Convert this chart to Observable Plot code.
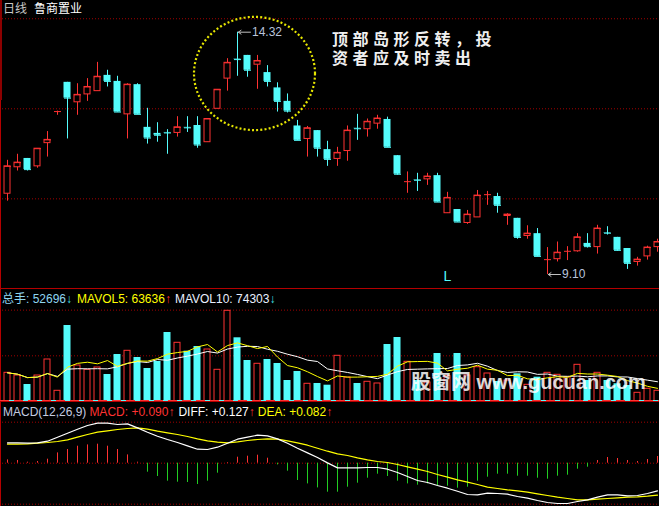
<!DOCTYPE html>
<html>
<head>
<meta charset="utf-8">
<script src="https://cdn.jsdelivr.net/npm/d3@7"></script>
<script src="https://cdn.jsdelivr.net/npm/@observablehq/plot@0.6"></script>
<style>
html,body{margin:0;padding:0;background:#000;}
#wrap{position:relative;width:659px;height:506px;overflow:hidden;background:#000;font-family:"Liberation Sans","Noto Sans CJK SC",sans-serif;}
#wrap svg{position:absolute;left:0;}
</style>
</head>
<body>
<div id="wrap"></div>
<script>
// ---------- data ----------
const open  = [10.84,11.41,11.60,11.43,11.93,12.61,13.24,12.81,12.98,13.05,
               13.39,13.26,12.55,13.19,12.27,12.14,12.16,12.15,12.27,12.31,
               11.95,12.67,13.32,13.74,13.82,13.62,13.45,13.12,12.83,12.30,
               12.02,12.20,11.79,11.59,11.76,12.25,12.23,12.35,12.44,11.66,
               11.10,11.14,11.15,11.23,10.42,10.50,10.21,10.33,10.82,10.78,
               10.36,10.31,9.93,9.98,9.42,9.43,9.60,9.60,9.77,9.69,
               10.00,9.90,9.66,9.37,9.49,9.69];
const high  = [11.56,11.69,11.60,11.81,12.18,12.62,13.24,13.21,13.32,13.67,
               13.50,13.37,13.21,13.21,12.68,12.37,12.22,12.50,12.50,12.50,
               12.45,13.08,13.75,14.32,13.82,13.82,13.60,13.23,12.99,12.42,
               12.29,12.20,11.97,11.84,12.30,12.55,12.45,12.53,12.49,11.66,
               11.31,11.28,11.28,11.28,10.87,10.50,10.48,10.91,10.89,10.85,
               10.41,10.31,10.15,10.09,9.68,9.80,9.70,9.98,9.98,10.16,
               10.13,9.90,9.66,9.47,9.71,9.86];
const low   = [10.68,11.33,11.33,11.39,11.63,12.53,12.02,12.53,12.83,13.05,
               13.14,12.60,12.02,12.55,11.91,11.95,11.69,12.06,12.16,11.82,
               11.95,12.67,13.05,13.37,13.35,13.09,13.14,12.60,12.58,11.99,
               11.63,11.63,11.43,11.43,11.54,11.99,12.06,12.23,11.84,11.24,
               10.85,10.89,11.02,10.66,10.42,10.23,10.18,10.33,10.59,10.42,
               10.16,9.86,9.86,9.49,9.10,9.37,9.40,9.58,9.67,9.54,
               9.95,9.60,9.21,9.28,9.41,9.58];
const close = [11.43,11.51,11.36,11.81,12.00,12.61,12.90,12.97,13.14,13.36,
               13.26,12.60,13.19,12.55,12.04,12.10,12.15,12.27,12.26,11.89,
               12.45,13.08,13.66,13.73,13.50,13.70,13.26,12.83,12.62,11.99,
               12.25,11.82,11.58,11.72,12.20,12.24,12.39,12.46,11.84,11.26,
               11.10,11.13,11.21,10.66,10.75,10.23,10.39,10.80,10.82,10.59,
               10.39,9.90,9.98,9.49,9.42,9.57,9.60,9.90,9.70,10.09,
               9.99,9.62,9.34,9.42,9.68,9.80];
const volume = [141300,128000,83700,128000,206900,52700,374300,177300,156100,167500,
                133000,231500,249700,216700,162500,197000,339800,289100,247700,270900,
                256100,156100,446700,313700,201900,185700,206900,187200,103400,147800,
                87200,88700,80300,225100,118200,88700,97000,88700,280700,315200,
                195500,103400,93600,236400,124600,236400,128000,168900,137900,98500,
                103400,136400,82200,119700,141300,131500,119700,180700,103400,141300,
                103400,87200,78800,42800,62500,52696];
const diff = [0.203,0.203,0.200,0.203,0.220,0.260,0.300,0.340,0.377,0.400,
              0.400,0.387,0.393,0.353,0.310,0.270,0.237,0.207,0.173,0.140,
              0.137,0.160,0.200,0.240,0.260,0.280,0.273,0.243,0.200,0.150,
              0.103,0.057,0.003,-0.047,-0.047,-0.047,-0.043,-0.043,-0.060,-0.093,
              -0.133,-0.173,-0.193,-0.223,-0.250,-0.280,-0.313,-0.317,-0.300,-0.303,
              -0.310,-0.333,-0.350,-0.373,-0.393,-0.403,-0.403,-0.383,-0.367,-0.340,
              -0.317,-0.317,-0.327,-0.323,-0.303,-0.277];
const dea  = [0.190,0.190,0.193,0.200,0.207,0.217,0.233,0.260,0.287,0.310,
              0.323,0.337,0.347,0.353,0.340,0.320,0.303,0.287,0.267,0.243,
              0.223,0.210,0.203,0.213,0.227,0.237,0.243,0.240,0.223,0.203,
              0.180,0.150,0.120,0.093,0.077,0.053,0.033,0.017,0.007,-0.013,
              -0.037,-0.060,-0.083,-0.113,-0.140,-0.167,-0.190,-0.213,-0.240,-0.253,
              -0.267,-0.277,-0.290,-0.307,-0.323,-0.340,-0.353,-0.367,-0.367,-0.360,
              -0.353,-0.347,-0.340,-0.337,-0.330,-0.320];
const macd = [0.033,0.027,0.010,0.017,0.040,0.103,0.137,0.170,0.183,0.190,
              0.170,0.137,0.083,0.010,-0.090,-0.133,-0.180,-0.190,-0.193,-0.213,
              -0.180,-0.100,0.007,0.060,0.070,0.080,0.050,-0.017,-0.080,-0.173,
              -0.207,-0.247,-0.290,-0.290,-0.240,-0.200,-0.150,-0.110,-0.133,-0.180,
              -0.207,-0.220,-0.207,-0.230,-0.230,-0.250,-0.240,-0.180,-0.140,-0.110,
              -0.110,-0.130,-0.130,-0.150,-0.160,-0.130,-0.120,-0.060,-0.040,0.027,
              0.057,0.047,0.027,0.017,0.037,0.067];
const priceGrid = [14.61, 12.67, 10.73];
const volGrid = [225000, 450000];
const macdGrid = [0.41, 0, -0.41];
const signals = [{i: 44, label: "L"}];
const island = {i: 24.75, p: 13.42, di: 6.05, dp: 1.22};
const stockName = "鲁商置业";
const period = "日线";
const volHeader = [["总手: 52696", "#8fd6f0"], ["↓", "#40e0e0"], ["MAVOL5: 63636", "#ffff00"], ["↑", "#ff3232"], ["MAVOL10: 74303", "#e8f0ff"], ["↓", "#40e0e0"]];
const macdHeader = [["MACD(12,26,9)", "#c4cce0"], ["MACD: +0.090↑", "#ff3232"], ["DIFF: +0.127", "#ffffff"], ["↑", "#ff3232"], ["DEA: +0.082", "#ffff00"], ["↑", "#ff3232"]];
const note = ["顶部岛形反转，投", "资者应及时卖出"];
const watermark = "股窗网 www.gucuan.com";

// ---------- styles ----------
const RED = "#ff3232", CYAN = "#54fcfc", GREEN = "#22cc22", YELLOW = "#ffff00", GRID = "#a00000";

const bars = open.map((o, i) => ({i, o, h: high[i], l: low[i], c: close[i], v: volume[i], up: close[i] >= o}));
const ups = bars.filter(d => d.up), downs = bars.filter(d => !d.up);
const macdRows = macd.map((m, i) => ({i, m, diff: diff[i], dea: dea[i]}));
const hiI = d3.maxIndex(high), loI = d3.minIndex(low);
const extremes = [{i: hiI, p: high[hiI]}, {i: loI, p: low[loI]}];

const X = {domain: [-0.5, open.length - 0.8], axis: null};
const common = {width: 659, marginLeft: 2, marginRight: 0, style: {background: "transparent", overflow: "visible"}};
const wrap = document.getElementById("wrap");

// ---------- price pane ----------
const price = Plot.plot({
  ...common, height: 288, marginTop: 31.7, marginBottom: 14,
  x: X, y: {domain: [9.10, 14.32], axis: null},
  marks: [
    Plot.ruleY(priceGrid, {stroke: GRID, strokeDasharray: "1,2"}),
    Plot.ruleX(ups, {x: "i", y1: "l", y2: "h", stroke: RED}),
    Plot.ruleX(downs, {x: "i", y1: "l", y2: "h", stroke: CYAN}),
    Plot.rect(ups, {x1: d => d.i - 0.3, x2: d => d.i + 0.3, y1: "o", y2: "c", fill: "#000", stroke: RED}),
    Plot.rect(downs, {x1: d => d.i - 0.35, x2: d => d.i + 0.35, y1: "o", y2: "c", fill: CYAN}),
    Plot.link(ups, {x1: d => d.i - 0.35, x2: d => d.i + 0.35, y1: "c", y2: "c", stroke: RED, strokeWidth: 1}),
    Plot.link(downs, {x1: d => d.i - 0.35, x2: d => d.i + 0.35, y1: "c", y2: "c", stroke: CYAN, strokeWidth: 1}),
    Plot.arrow(extremes, {x1: d => d.i + 1.3, x2: d => d.i + 0.08, y1: "p", y2: "p", stroke: "#c0c0c0", strokeWidth: 1, headLength: 5, headAngle: 70}),
    Plot.text(extremes, {x: d => d.i + 1.45, y: "p", text: d => d.p.toFixed(2), textAnchor: "start", fill: "#b8c4dc", fontSize: 12, fontFamily: "Liberation Sans"}),
    Plot.text(signals, {x: "i", text: "label", frameAnchor: "bottom", dy: 6, fill: CYAN, fontSize: 14, fontFamily: "Liberation Sans"})
  ]
});
price.style.top = "0px";
{
  const sx = price.scale("x"), sy = price.scale("y");
  const cx = sx.apply(island.i), cy = sy.apply(island.p);
  const rx = sx.apply(island.i + island.di) - cx, ry = sy.apply(island.p - island.dp) - cy;
  d3.select(price).append("ellipse")
    .attr("cx", cx).attr("cy", cy).attr("rx", rx).attr("ry", ry)
    .attr("fill", "none").attr("stroke", "#e6e600").attr("stroke-width", 2.2).attr("stroke-dasharray", "2,2.2");
}
wrap.appendChild(price);

// ---------- volume pane ----------
const volPlot = Plot.plot({
  ...common, height: 114, marginTop: 0, marginBottom: 1,
  x: X, y: {domain: [0, 556525], axis: null},
  marks: [
    Plot.ruleY(volGrid, {stroke: GRID, strokeDasharray: "1,2"}),
    Plot.rect(ups, {x1: d => d.i - 0.3, x2: d => d.i + 0.3, y1: 0, y2: "v", fill: "#000", stroke: RED}),
    Plot.rect(downs, {x1: d => d.i - 0.35, x2: d => d.i + 0.35, y1: 0, y2: "v", fill: CYAN}),
    Plot.lineY(bars, Plot.windowY({k: 10, anchor: "end", reduce: "mean"}, {x: "i", y: "v", stroke: "#ffffff", strokeWidth: 1})),
    Plot.lineY(bars, Plot.windowY({k: 5, anchor: "end", reduce: "mean"}, {x: "i", y: "v", stroke: YELLOW, strokeWidth: 1}))
  ]
});
volPlot.style.top = "288px";
wrap.appendChild(volPlot);

// ---------- MACD pane ----------
const macdPlot = Plot.plot({
  ...common, height: 105, marginTop: 0, marginBottom: 0,
  x: X, y: {domain: [-0.433, 0.617], axis: null},
  marks: [
    Plot.ruleY(macdGrid, {stroke: GRID, strokeDasharray: "1,2"}),
    Plot.ruleX(macdRows.filter(d => d.m >= 0), {x: "i", y1: 0, y2: "m", stroke: RED}),
    Plot.ruleX(macdRows.filter(d => d.m < 0), {x: "i", y1: 0, y2: "m", stroke: GREEN}),
    Plot.line(macdRows, {x: "i", y: "dea", stroke: YELLOW, strokeWidth: 1.2}),
    Plot.line(macdRows, {x: "i", y: "diff", stroke: "#ffffff", strokeWidth: 1.2})
  ]
});
macdPlot.style.top = "401px";
wrap.appendChild(macdPlot);

// ---------- frame lines & texts ----------
function addDiv(css, html) {
  const d = document.createElement("div");
  d.style.cssText = css;
  if (html) d.innerHTML = html;
  wrap.appendChild(d);
  return d;
}
addDiv("position:absolute;left:0;top:0;width:2px;height:100px;background:#8c0000;");
addDiv("position:absolute;left:0;top:100px;width:1px;height:406px;background:#b40000;");
addDiv("position:absolute;left:0;top:288px;width:659px;height:1px;background:#b40000;");
addDiv("position:absolute;left:0;top:400px;width:659px;height:1px;background:repeating-linear-gradient(to right,#ff3232 0 9px,#54fcfc 9px 14px);");
addDiv("position:absolute;left:0;top:401px;width:659px;height:1px;background:#b40000;");

addDiv("position:absolute;left:3px;top:2px;font-size:12px;line-height:12px;white-space:nowrap;font-family:'Noto Sans CJK SC',sans-serif;",
  `<span style="color:#c8c8c8">${period}</span><span style="color:#fff;margin-left:7px">${stockName}</span>`);

function header(items, top, gaps) {
  const html = items.map((it, k) => `<span style="color:${it[1]};margin-left:${gaps[k]}px">${it[0]}</span>`).join("");
  addDiv(`position:absolute;left:2px;top:${top}px;font-size:12px;line-height:12px;white-space:nowrap;font-family:'Liberation Sans','Noto Sans CJK SC',sans-serif;`, html);
}
header(volHeader, 293, [0, 0, 5, 0, 4, 0]);
header(macdHeader, 406, [1, 3, 4, 0, 3, 0]);

note.forEach((line, k) => {
  addDiv(`position:absolute;left:332px;top:${31 + k * 19}px;font-size:16px;line-height:17px;height:17px;font-weight:bold;letter-spacing:4.5px;color:#f0f0f0;white-space:nowrap;font-family:'Liberation Sans','Noto Sans CJK SC',sans-serif;`,
    line);
});
addDiv("position:absolute;left:411px;top:372px;font-size:20px;line-height:20px;font-weight:bold;color:rgba(255,255,255,0.86);white-space:nowrap;font-family:'Liberation Sans','Noto Sans CJK SC',sans-serif;",
  watermark);
</script>
</body>
</html>
